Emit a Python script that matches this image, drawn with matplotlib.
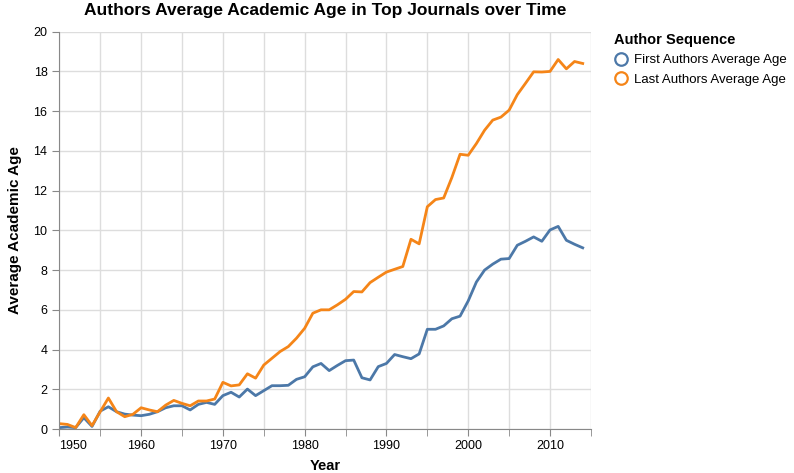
import matplotlib.pyplot as plt
from matplotlib.lines import Line2D
from matplotlib.ticker import MultipleLocator
import numpy as np

plt.rcParams['font.family'] = ['Liberation Sans', 'DejaVu Sans']

years = list(range(1950, 2015))

first_age = [
    0.07, 0.10, 0.07, 0.57, 0.13, 0.90, 1.12, 0.87, 0.75, 0.70,
    0.67, 0.74, 0.87, 1.07, 1.17, 1.17, 0.96, 1.24, 1.34, 1.24,
    1.68, 1.85, 1.61, 2.01, 1.68, 1.93, 2.18, 2.18, 2.20, 2.50,
    2.63, 3.13, 3.30, 2.94, 3.20, 3.44, 3.47, 2.58, 2.47, 3.14,
    3.30, 3.75, 3.64, 3.54, 3.78, 5.02, 5.02, 5.19, 5.55, 5.68,
    6.45, 7.40, 8.00, 8.30, 8.55, 8.58, 9.25, 9.45, 9.67, 9.45,
    10.02, 10.20, 9.50, 9.30, 9.12,
]

last_age = [
    0.27, 0.23, 0.07, 0.72, 0.17, 0.87, 1.56, 0.87, 0.62, 0.74,
    1.07, 0.96, 0.87, 1.20, 1.44, 1.29, 1.17, 1.41, 1.41, 1.51,
    2.35, 2.17, 2.22, 2.78, 2.56, 3.22, 3.56, 3.90, 4.15, 4.57,
    5.07, 5.83, 6.00, 6.00, 6.25, 6.53, 6.92, 6.90, 7.37, 7.64,
    7.90, 8.04, 8.18, 9.55, 9.32, 11.19, 11.55, 11.63, 12.66, 13.83,
    13.78, 14.37, 15.04, 15.55, 15.70, 16.05, 16.83, 17.40, 17.98, 17.97,
    18.00, 18.60, 18.13, 18.50, 18.40,
]

series_names = ['First Authors Average Age', 'Last Authors Average Age']
colors = ['#4c78a8', '#f58518']

fig = plt.figure(figsize=(7.94, 4.73), dpi=100)
ax = fig.add_axes([0.0747, 0.093, 0.6695, 0.840])

ax.plot(years, first_age, color=colors[0], lw=2)
ax.plot(years, last_age, color=colors[1], lw=2)

ax.set_xlim(1950, 2015)
ax.set_ylim(0, 20)
ax.xaxis.set_major_locator(MultipleLocator(10))
ax.xaxis.set_minor_locator(MultipleLocator(5))
ax.yaxis.set_major_locator(MultipleLocator(2))
ax.grid(True, which='both', color='#dddddd', lw=1)
ax.set_axisbelow(True)

for side in ['top', 'right']:
    ax.spines[side].set_visible(False)
for side in ['left', 'bottom']:
    ax.spines[side].set_color('#888888')
ax.tick_params(which='both', color='#888888', length=5, labelsize=9, labelcolor='#000000')
ax.tick_params(axis='x', pad=3)

# first x label flush with the axis start
fig.canvas.draw()
for lbl in ax.get_xticklabels():
    if lbl.get_text() == '1950':
        lbl.set_horizontalalignment('left')

ax.set_xlabel('Year', fontsize=10.5, fontweight='bold', labelpad=5)
ax.set_ylabel('Average Academic Age', fontsize=11, fontweight='bold', labelpad=8)
ax.set_title('Authors Average Academic Age in Top Journals over Time',
             fontsize=12.5, fontweight='bold', pad=12)

handles = [Line2D([], [], ls='none', marker='o', markersize=9, markerfacecolor='none',
                  markeredgecolor=c, markeredgewidth=1.6) for c in colors]
leg = ax.legend(handles, series_names, title='Author Sequence', loc='upper left',
                bbox_to_anchor=(0.767, 0.942), bbox_transform=fig.transFigure,
                frameon=False, fontsize=9.5, title_fontproperties={'weight': 'bold', 'size': 10.5},
                alignment='left', handletextpad=0.5, labelspacing=0.55,
                borderaxespad=0, handlelength=1.0)

fig.savefig('out.png', dpi=100)
